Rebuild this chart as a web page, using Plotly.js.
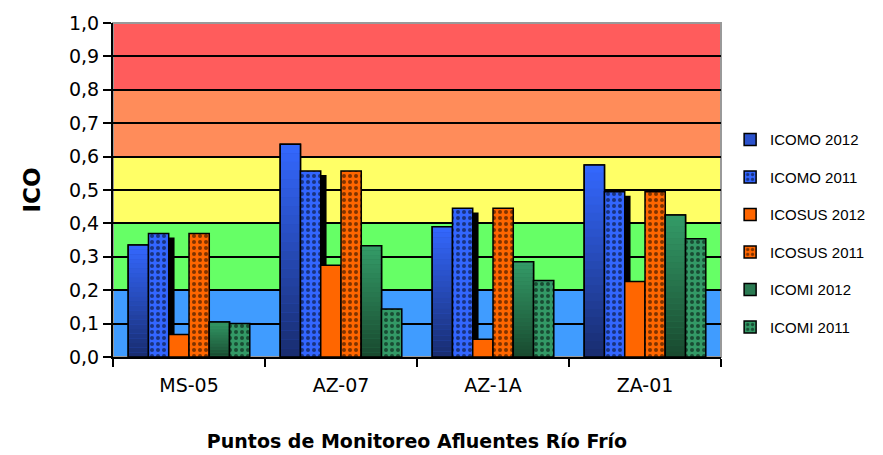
<!DOCTYPE html>
<html>
<head>
<meta charset="utf-8">
<script src="https://cdn.plot.ly/plotly-3.0.1.min.js"></script>
<style>html,body{margin:0;padding:0;background:#fff;}#chart{width:883px;height:455px;}</style>
</head>
<body>
<div id="chart"></div>
<script>
const categories = ['MS-05', 'AZ-07', 'AZ-1A', 'ZA-01'];
const seriesNames = ['ICOMO 2012', 'ICOMO 2011', 'ICOSUS 2012', 'ICOSUS 2011', 'ICOMI 2012', 'ICOMI 2011'];
const icomo2012 = [0.335, 0.637, 0.39, 0.575];
const icomo2011 = [0.37, 0.557, 0.445, 0.495];
const icosus2012 = [0.067, 0.275, 0.053, 0.226];
const icosus2011 = [0.37, 0.557, 0.445, 0.495];
const icomi2012 = [0.105, 0.333, 0.285, 0.425];
const icomi2011 = [0.10, 0.144, 0.229, 0.354];
const yTicks = [0, 0.1, 0.2, 0.3, 0.4, 0.5, 0.6, 0.7, 0.8, 0.9, 1.0];
const bands = [[0, 0.2], [0.2, 0.4], [0.4, 0.6], [0.6, 0.8], [0.8, 1.0]];
const bandColors = ['#409cff', '#66ff66', '#ffff66', '#ff8c5a', '#ff5c5c'];

const FONT = 'DejaVu Sans, Verdana, sans-serif';
const LFONT = 'Liberation Sans, Arial, sans-serif';
const traces = [];

function lerp(a, b, t) { return Math.round(a + (b - a) * t); }
function mix(c1, c2, t) {
  return 'rgb(' + lerp(c1[0], c2[0], t) + ',' + lerp(c1[1], c2[1], t) + ',' + lerp(c1[2], c2[2], t) + ')';
}

function gradientSeries(name, values, group, topRGB, botRGB, midColor) {
  traces.push({
    type: 'bar', name: name, x: categories, y: values, offsetgroup: group, legendgroup: group,
    marker: {color: midColor, line: {color: '#000', width: 1.5}}, hoverinfo: 'skip'
  });
  const N = 24;
  for (let k = 0; k < N; k++) {
    traces.push({
      type: 'bar', x: categories, y: values.map(v => v / N), base: values.map(v => v * k / N),
      offsetgroup: group, legendgroup: group, showlegend: false, hoverinfo: 'skip',
      marker: {color: mix(botRGB, topRGB, (k + 0.5) / N), line: {width: 0}}
    });
  }
  traces.push({
    type: 'bar', x: categories, y: values, offsetgroup: group, legendgroup: group, showlegend: false,
    hoverinfo: 'skip', marker: {color: 'rgba(0,0,0,0)', line: {color: '#000', width: 1.5}}
  });
}

function patternSeries(name, values, group, color) {
  traces.push({
    type: 'bar', name: name, x: categories, y: values, offsetgroup: group, legendgroup: group,
    hoverinfo: 'skip',
    marker: {color: color, line: {color: '#000', width: 1.5},
      pattern: {shape: '.', fgcolor: '#000', bgcolor: color, size: 6, solidity: 0.35, fillmode: 'overlay'}}
  });
}

function solidSeries(name, values, group, color) {
  traces.push({
    type: 'bar', name: name, x: categories, y: values, offsetgroup: group, legendgroup: group,
    hoverinfo: 'skip', marker: {color: color, line: {color: '#000', width: 1.5}}
  });
}

gradientSeries(seriesNames[0], icomo2012, 'g1', [52, 104, 255], [24, 44, 110], '#2b52cc');
// dark 3-D side visible behind the ICOMO 2011 bars
traces.push({
  type: 'bar', x: categories, y: icomo2011.map(v => v - 0.012), offsetgroup: 'g2', legendgroup: 'g2',
  showlegend: false, hoverinfo: 'skip', offset: -0.145, width: 0.05,
  marker: {color: '#000', line: {width: 0}}
});
patternSeries(seriesNames[1], icomo2011, 'g2', '#3366ff');
solidSeries(seriesNames[2], icosus2012, 'g3', '#ff6600');
patternSeries(seriesNames[3], icosus2011, 'g4', '#ff6600');
gradientSeries(seriesNames[4], icomi2012, 'g5', [52, 156, 104], [24, 72, 46], '#2a7a52');
patternSeries(seriesNames[5], icomi2011, 'g6', '#339966');

const shapes = bands.map((b, i) => ({
  type: 'rect', xref: 'paper', yref: 'y', x0: 0, x1: 1, y0: b[0], y1: b[1],
  fillcolor: bandColors[i], line: {width: 0}, layer: 'below'
}));
shapes.push({type: 'rect', xref: 'paper', yref: 'paper', x0: 0, x1: 1, y0: 0, y1: 1,
  line: {color: '#999', width: 2}, fillcolor: 'rgba(0,0,0,0)', layer: 'below'});

const layout = {
  width: 883, height: 455,
  margin: {l: 113, r: 162, t: 23, b: 98, autoexpand: false},
  paper_bgcolor: '#fff', plot_bgcolor: '#fff',
  separators: ',.',
  barmode: 'group', bargap: 0.2, bargroupgap: 0,
  font: {family: FONT, color: '#000', size: 17},
  shapes: shapes,
  xaxis: {
    type: 'category', tickson: 'boundaries', ticks: 'outside', ticklen: 8, tickwidth: 2, tickcolor: '#000',
    showline: true, linecolor: '#000', linewidth: 2, showgrid: false, automargin: false,
    ticklabelstandoff: 10,
    tickfont: {size: 19, family: FONT}, fixedrange: true,
    title: {text: '<b>Puntos de Monitoreo Afluentes Río Frío</b>', font: {size: 19, family: FONT}, standoff: 40}
  },
  yaxis: {
    range: [0, 1.0], tickvals: yTicks, tickformat: '.1f', ticks: 'outside', ticklen: 8, tickwidth: 2,
    tickcolor: '#000', showline: true, linecolor: '#000', linewidth: 2, automargin: false,
    showgrid: true, gridcolor: '#000', gridwidth: 2, zeroline: false, layer: 'above traces',
    tickfont: {size: 19, family: FONT}, fixedrange: true,
    title: {text: '<b>ICO</b>', font: {size: 23, family: FONT}, standoff: 22}
  },
  legend: {
    x: 1.015, xanchor: 'left', y: 0.70, yanchor: 'top', tracegroupgap: 15,
    font: {size: 15, family: LFONT}, itemwidth: 30, bgcolor: 'rgba(0,0,0,0)'
  },
  showlegend: true
};

Plotly.newPlot('chart', traces, layout, {displayModeBar: false, staticPlot: true});
</script>
</body>
</html>
